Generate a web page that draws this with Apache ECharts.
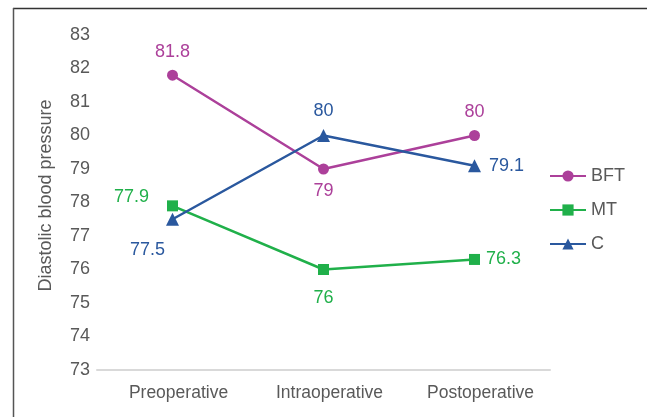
<!DOCTYPE html>
<html>
<head>
<meta charset="utf-8">
<script src="https://cdn.jsdelivr.net/npm/echarts@6/dist/echarts.min.js"></script>
<style>
  html, body { margin: 0; padding: 0; background: #fff; }
  #chart { width: 647px; height: 417px; }
</style>
</head>
<body>
<div id="chart"></div>
<script>
// Diastolic blood pressure by phase for each group
const categories = ['Preoperative', 'Intraoperative', 'Postoperative'];
const bftValues = [81.8, 79, 80];
const mtValues = [77.9, 76, 76.3];
const cValues = [77.5, 80, 79.1];
const yTicks = { min: 73, max: 83, interval: 1 };

const FONT = '"Liberation Sans", Arial, sans-serif';
const FS = 18;
const BFT_COLOR = '#ac409a';
const MT_COLOR = '#20b04a';
const C_COLOR = '#2a589e';

const chart = echarts.init(document.getElementById('chart'), null, { renderer: 'canvas' });

function labelsFor(posList, color) {
  return posList.map(p => ({
    show: true,
    position: p.pos,
    offset: p.off || [0, 0],
    distance: p.dist == null ? 8 : p.dist,
    color: color,
    fontSize: FS,
    fontFamily: FONT
  }));
}

function buildData(values, labels) {
  return values.map((v, i) => ({ value: v, label: labels[i] }));
}

const bftLabels = labelsFor([
  { pos: 'top', off: [0, -1] },
  { pos: 'bottom', off: [0, 0] },
  { pos: 'top', off: [0, -1] }
], BFT_COLOR);
const mtLabels = labelsFor([
  { pos: 'left', off: [-10, -9] },
  { pos: 'bottom', off: [0, 6] },
  { pos: 'right', off: [-2, 0] }
], MT_COLOR);
const cLabels = labelsFor([
  { pos: 'bottom', off: [-25, 7] },
  { pos: 'top', off: [0, -1] },
  { pos: 'right', off: [0, 0] }
], C_COLOR);

const option = {
  backgroundColor: '#ffffff',
  animation: false,
  textStyle: { fontFamily: FONT },
  grid: { left: 97, right: 97, top: 35, bottom: 47 },
  legend: {
    orient: 'vertical',
    right: 17,
    top: 162,
    itemWidth: 36,
    itemHeight: 14,
    itemGap: 16,
    textStyle: { fontSize: FS, color: '#595959', fontFamily: FONT },
    data: ['BFT', 'MT', 'C']
  },
  xAxis: {
    type: 'category',
    data: categories,
    boundaryGap: true,
    axisLine: { show: true, lineStyle: { color: '#d9d9d9', width: 2 } },
    axisTick: { show: false },
    axisLabel: {
      color: '#595959', fontSize: 17.5, fontFamily: FONT, margin: 14,
      padding: [0, 0, 0, 12]
    }
  },
  yAxis: {
    type: 'value',
    min: yTicks.min,
    max: yTicks.max,
    interval: yTicks.interval,
    name: 'Diastolic blood pressure',
    nameLocation: 'middle',
    nameGap: 42,
    nameRotate: 90,
    nameTextStyle: {
      color: '#595959', fontSize: FS, fontFamily: FONT,
      padding: [0, 0, 0, 14]
    },
    axisLine: { show: false },
    axisTick: { show: false },
    splitLine: { show: false },
    axisLabel: { color: '#595959', fontSize: FS, fontFamily: FONT, margin: 7 }
  },
  series: [
    {
      name: 'BFT',
      type: 'line',
      data: buildData(bftValues, bftLabels),
      symbol: 'circle',
      symbolSize: 11,
      color: BFT_COLOR,
      lineStyle: { width: 2.5, color: BFT_COLOR },
      itemStyle: { color: BFT_COLOR },
      z: 3
    },
    {
      name: 'MT',
      type: 'line',
      data: buildData(mtValues, mtLabels),
      symbol: 'rect',
      symbolSize: 11,
      color: MT_COLOR,
      lineStyle: { width: 2.5, color: MT_COLOR },
      itemStyle: { color: MT_COLOR },
      z: 2
    },
    {
      name: 'C',
      type: 'line',
      data: buildData(cValues, cLabels),
      symbol: 'triangle',
      symbolSize: 13,
      color: C_COLOR,
      lineStyle: { width: 2.5, color: C_COLOR },
      itemStyle: { color: C_COLOR },
      z: 4
    }
  ],
  graphic: [
    // frame lines along the top and left edges
    { type: 'line', shape: { x1: 13, y1: 8.5, x2: 647, y2: 8.5 }, style: { stroke: '#333', lineWidth: 1.5 }, silent: true },
    { type: 'line', shape: { x1: 13.5, y1: 8, x2: 13.5, y2: 417 }, style: { stroke: '#555', lineWidth: 1.5 }, silent: true }
  ]
};

chart.setOption(option);
</script>
</body>
</html>
